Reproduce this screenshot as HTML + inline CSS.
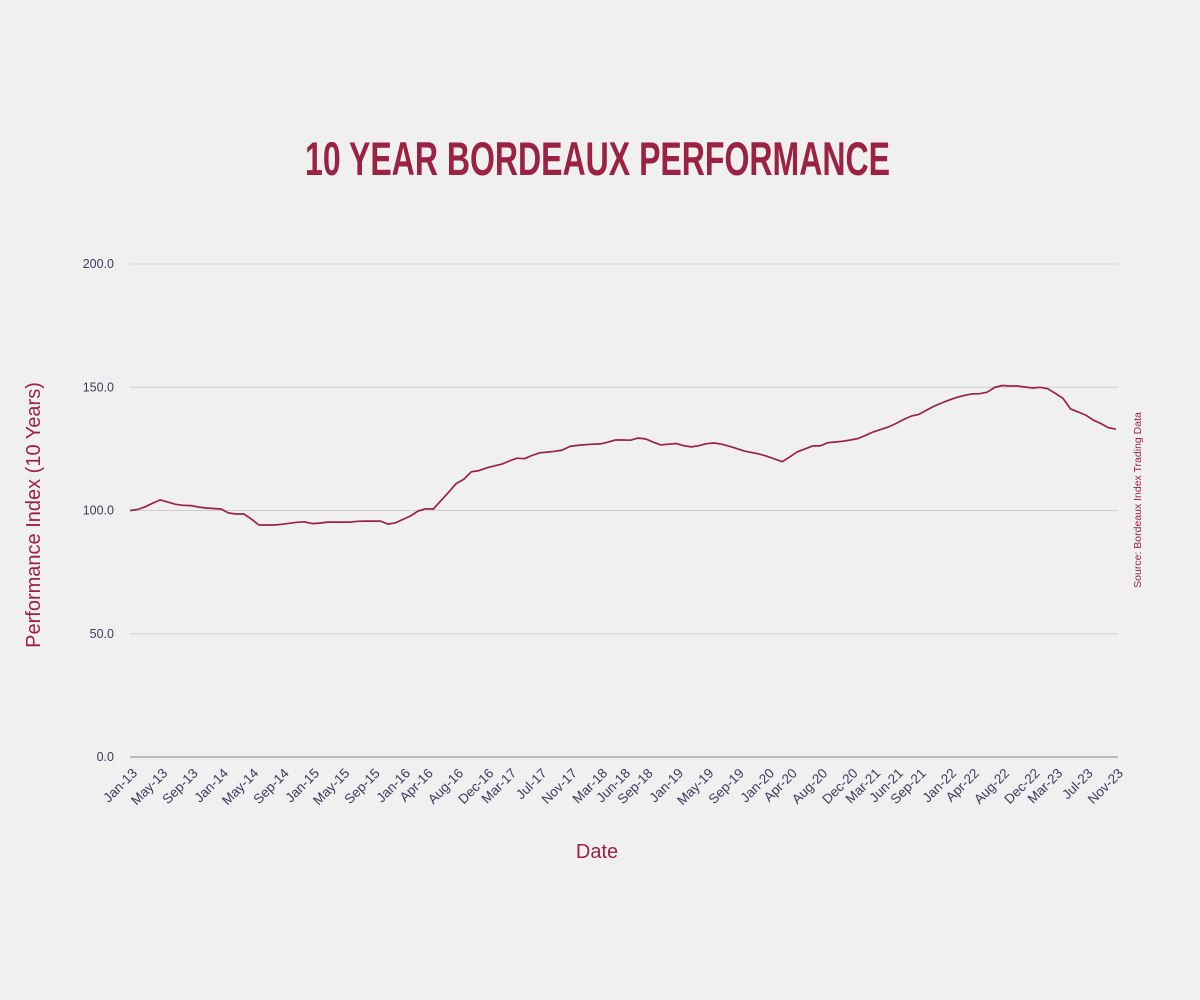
<!DOCTYPE html>
<html><head><meta charset="utf-8"><style>
html,body{margin:0;padding:0;background:#f0f0f0;}
svg{display:block;}
</style></head><body>
<svg id="chart" width="1200" height="1000" viewBox="0 0 1200 1000" xmlns="http://www.w3.org/2000/svg">
<rect width="1200" height="1000" fill="#f0f0f0"/>
<text x="305" y="175" textLength="585" lengthAdjust="spacingAndGlyphs" font-family="Liberation Sans, sans-serif" font-weight="bold" font-size="47" fill="#9b2242">10 YEAR BORDEAUX PERFORMANCE</text>
<g id="grid"></g>
<g id="yticks"></g>
<g id="xticks"></g>
<g id="series"></g>
<text transform="translate(40,515) rotate(-90)" text-anchor="middle" font-family="Liberation Sans, sans-serif" font-size="20" fill="#9b2242">Performance Index (10 Years)</text>
<text x="597" y="858" text-anchor="middle" font-family="Liberation Sans, sans-serif" font-size="20" fill="#9b2242">Date</text>
<text transform="translate(1141,500) rotate(-90)" text-anchor="middle" font-family="Liberation Sans, sans-serif" font-size="10.5" fill="#9b2242">Source: Bordeaux Index Trading Data</text>
</svg>
<script>
const values = [100,100.4,101.5,103,104.3,103.4,102.5,102.1,102,101.4,101,100.8,100.6,99,98.6,98.6,96.5,94.1,94.1,94.1,94.4,94.8,95.2,95.4,94.7,94.9,95.3,95.3,95.3,95.3,95.6,95.7,95.7,95.7,94.5,95,96.4,97.8,99.8,100.7,100.6,104,107.4,110.9,112.6,115.7,116.2,117.3,118.1,118.8,120.1,121.2,121,122.3,123.4,123.7,124,124.5,126,126.4,126.7,126.9,127,127.7,128.6,128.6,128.5,129.4,129,127.7,126.6,126.9,127.2,126.3,125.8,126.3,127.1,127.4,126.9,126.1,125.1,124.1,123.5,122.9,122,120.9,119.8,121.8,123.8,125,126.2,126.2,127.5,127.8,128.1,128.6,129.2,130.5,131.9,132.9,133.9,135.3,136.9,138.3,139,140.7,142.3,143.6,144.8,145.9,146.7,147.3,147.4,148,149.9,150.7,150.5,150.5,150.1,149.7,150,149.4,147.5,145.5,141.2,140,138.7,136.7,135.3,133.6,133];
const tickLabels = ["Jan-13","May-13","Sep-13","Jan-14","May-14","Sep-14","Jan-15","May-15","Sep-15","Jan-16","Apr-16","Aug-16","Dec-16","Mar-17","Jul-17","Nov-17","Mar-18","Jun-18","Sep-18","Jan-19","May-19","Sep-19","Jan-20","Apr-20","Aug-20","Dec-20","Mar-21","Jun-21","Sep-21","Jan-22","Apr-22","Aug-22","Dec-22","Mar-23","Jul-23","Nov-23"];
const tickIndex = [0,4,8,12,16,20,24,28,32,36,39,43,47,50,54,58,62,65,68,72,76,80,84,87,91,95,98,101,104,108,111,115,119,122,126,130];
const yTicks = [0,50,100,150,200];

const NS = "http://www.w3.org/2000/svg";
const X0 = 130, X1 = 1116, Y0 = 757, Y1 = 264;
const xScale = i => X0 + i * (X1 - X0) / (values.length - 1);
const yScale = v => Y0 - v * (Y0 - Y1) / 200;
function mk(tag, attrs, parent) {
  const e = document.createElementNS(NS, tag);
  for (const k in attrs) e.setAttribute(k, attrs[k]);
  parent.appendChild(e);
  return e;
}
const grid = document.getElementById('grid');
const yt = document.getElementById('yticks');
yTicks.forEach(v => {
  const y = yScale(v);
  const l = mk('line', {x1: X0, x2: 1118, y1: y, y2: y, stroke: v === 0 ? '#a8a8a8' : '#cfcfcf', 'stroke-width': v === 0 ? 1.5 : 1}, grid);
  
  
  const t = mk('text', {x: 114, y: y + 4, 'text-anchor': 'end', 'font-family': 'Liberation Sans, sans-serif', 'font-size': 12.5, fill: '#3b3b5c'}, yt);
  t.textContent = v.toFixed(1);
  
  
});
const xt = document.getElementById('xticks');
tickLabels.forEach((lab, k) => {
  const x = xScale(tickIndex[k]);
  const t = mk('text', {transform: 'translate(' + (x + 8) + ',774) rotate(-45)', 'text-anchor': 'end', 'font-family': 'Liberation Sans, sans-serif', 'font-size': 13.5, fill: '#3b3b5c'}, xt);
  t.textContent = lab;
  
  
});
const pts = values.map((v, i) => xScale(i).toFixed(1) + ',' + yScale(v).toFixed(1)).join(' ');
const line = mk('polyline', {points: pts, fill: 'none', stroke: '#9b2242', 'stroke-width': 1.7, 'stroke-linejoin': 'round'}, document.getElementById('series'));


</script>
</body></html>
